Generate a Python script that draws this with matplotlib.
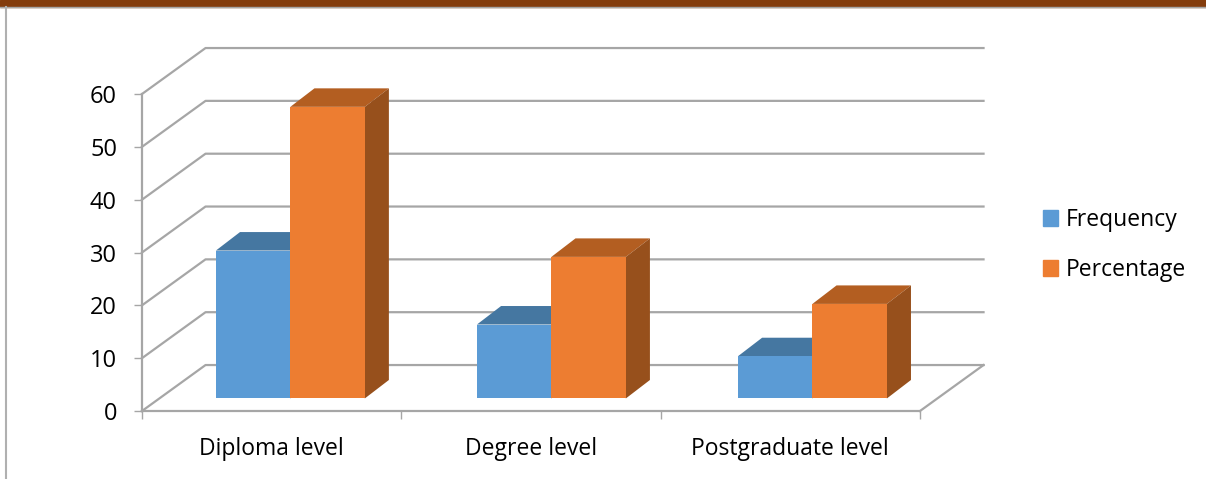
from matplotlib import pyplot as plt
from matplotlib.patches import Patch

categories = ['Diploma level', 'Degree level', 'Postgraduate level']
frequency = [28, 14, 8]
percentage = [55.2, 26.8, 17.9]
y_ticks = [0, 10, 20, 30, 40, 50, 60]

plt.rcParams['font.family'] = 'Open Sans'

GRID = '#a6a6a6'
BLUE = ['#5b9bd5', '#4577a1', '#3f6d96']
ORANGE = ['#ed7d31', '#b35e21', '#97501c']

# 3d look: offset of the back wall and of a bar's depth, in data units
WALL_X, WALL_Y = 0.245, 8.7
DEPTH_X, DEPTH_Y = 0.093, 3.5
FLOOR = 2.37
BAR_W = 0.287
GAP = 0.285
SLOT = 1.0066


def draw_bar(ax, x, val, colors):
    ax.bar(x, val, BAR_W, bottom=FLOOR, align='edge', color=colors[0], zorder=4, clip_on=False)
    top = FLOOR + val
    ax.fill([x, x + DEPTH_X, x + BAR_W + DEPTH_X, x + BAR_W],
            [top, top + DEPTH_Y, top + DEPTH_Y, top], color=colors[1], lw=0, zorder=3, clip_on=False)
    ax.fill([x + BAR_W, x + BAR_W + DEPTH_X, x + BAR_W + DEPTH_X, x + BAR_W],
            [FLOOR, FLOOR + DEPTH_Y, top + DEPTH_Y, top], color=colors[2], lw=0, zorder=3, clip_on=False)


def main():
    fig = plt.figure(figsize=(12.06, 4.79), dpi=100)
    ax = fig.add_axes([142 / 1206, 1 - 411 / 479, 778 / 1206, 317 / 479])
    ax.set_xlim(0, 3)
    ax.set_ylim(0, 60)
    ax.patch.set_visible(False)

    for t in y_ticks:
        ax.plot([0, WALL_X, 3 + WALL_X], [t, t + WALL_Y, t + WALL_Y],
                color=GRID, lw=1.6, clip_on=False, zorder=1)
    ax.plot([3, 3 + WALL_X], [0, WALL_Y], color=GRID, lw=1.6, clip_on=False, zorder=1)

    for i in range(len(categories)):
        draw_bar(ax, i * SLOT + GAP, frequency[i], BLUE)
        draw_bar(ax, i * SLOT + GAP + BAR_W, percentage[i], ORANGE)

    for s in ['top', 'right']:
        ax.spines[s].set_visible(False)
    for s in ['left', 'bottom']:
        ax.spines[s].set_color(GRID)
        ax.spines[s].set_linewidth(1.6)

    ax.set_yticks(y_ticks)
    ax.set_xticks([0, 1, 2, 3])
    ax.set_xticklabels([])
    ax.set_xticks([0.5, 1.5, 2.5], categories, minor=True)
    ax.tick_params(axis='x', which='major', length=6, width=1, color=GRID)
    ax.tick_params(axis='x', which='minor', length=0, pad=18.5, labelsize=16.5, labelcolor='black')
    ax.tick_params(axis='y', length=6, width=1, color=GRID, pad=12, labelsize=17, labelcolor='black')

    handles = [Patch(color=BLUE[0], label='Frequency'), Patch(color=ORANGE[0], label='Percentage')]
    fig.legend(handles=handles, loc='center left', bbox_to_anchor=(1036 / 1206, 1 - 245 / 479),
               frameon=False, fontsize=16.5, handlelength=0.66, handleheight=0.66,
               handletextpad=0.35, labelspacing=1.15, borderpad=0.3, borderaxespad=0)

    # page border left over from the screenshot
    fig.patches.append(plt.Rectangle((0, 1 - 7 / 479), 1, 7 / 479, color='#843c0c',
                                     transform=fig.transFigure, figure=fig))
    fig.add_artist(plt.Line2D([0, 1], [1 - 7 / 479, 1 - 7 / 479], color=GRID, lw=1))
    fig.add_artist(plt.Line2D([6 / 1206, 6 / 1206], [0, 1 - 7 / 479], color='#b0b0b0', lw=1.5))

    plt.savefig('out.png', dpi=100)


if __name__ == "__main__":
    main()
